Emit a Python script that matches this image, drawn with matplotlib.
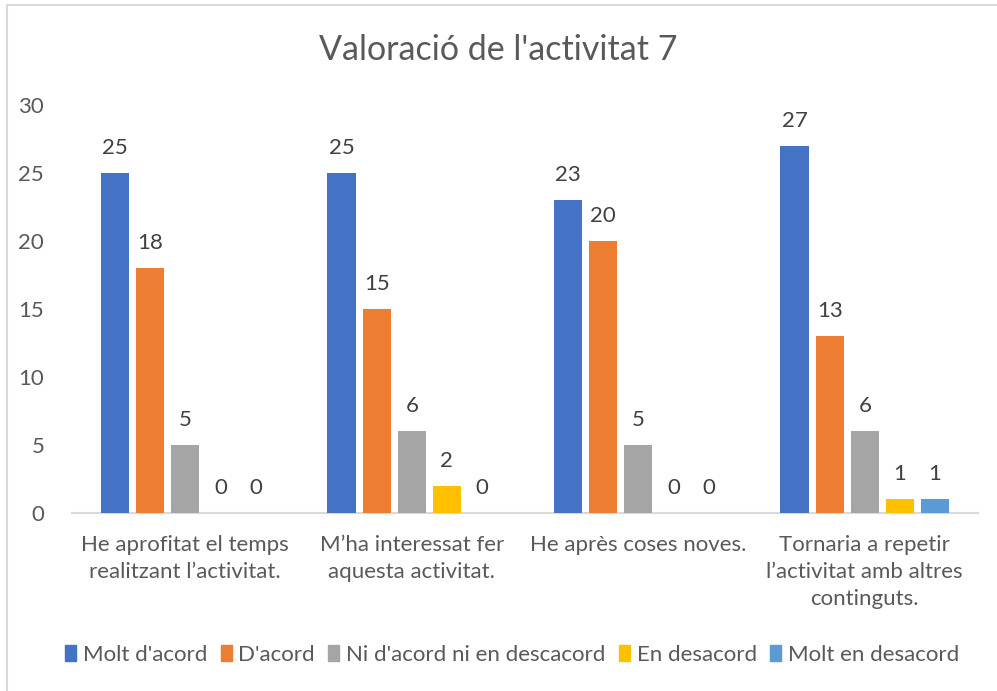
import matplotlib
matplotlib.use("Agg")
import matplotlib.pyplot as plt
import numpy as np
from matplotlib.patches import Rectangle
from matplotlib.lines import Line2D

plt.rcParams['font.family'] = ['Lato', 'DejaVu Sans']

categories = ["He aprofitat el temps\nrealitzant l\u2019activitat.",
              "M\u2019ha interessat fer\naquesta activitat.",
              "He apr\u00e8s coses noves.",
              "Tornaria a repetir\nl\u2019activitat amb altres\ncontinguts."]
series_names = ["Molt d'acord", "D'acord", "Ni d'acord ni en descacord",
                "En desacord", "Molt en desacord"]
molt_acord = [25, 25, 23, 27]
acord = [18, 15, 20, 13]
ni_ni = [5, 6, 5, 6]
desacord = [0, 2, 0, 1]
molt_desacord = [0, 0, 0, 1]
values = [molt_acord, acord, ni_ni, desacord, molt_desacord]
colors = ["#4472C4", "#ED7D31", "#A5A5A5", "#FFC000", "#5B9BD5"]
yticks = [0, 5, 10, 15, 20, 25, 30]

W, H = 997, 691
fig = plt.figure(figsize=(W/100, H/100), dpi=100)
ax = fig.add_axes([72/W, 1-513/H, (978-72)/W, (513-105)/H])

x = np.arange(len(categories))
step = 0.155
width = 0.124
txt = "#595959"
for i, (vals, c) in enumerate(zip(values, colors)):
    pos = x + (i-2)*step
    ax.bar(pos, vals, width=width, color=c, label=series_names[i], zorder=3)
    for p, v in zip(pos, vals):
        ax.annotate(str(v), (p, v), xytext=(0, 11), textcoords='offset points',
                    ha='center', va='bottom', fontsize=16, color="#404040")

ax.set_xlim(-0.5, 3.5)
ax.set_ylim(0, 30)
ax.set_yticks(yticks)
ax.set_yticklabels([str(t) for t in yticks], fontsize=16, color=txt)
ax.set_xticks(x)
ax.set_xticklabels(categories, fontsize=16, color=txt, linespacing=1.42, va='top')
ax.tick_params(axis='both', length=0)
ax.tick_params(axis='y', pad=20)
ax.tick_params(axis='x', pad=16)
for s in ['top', 'right', 'left']:
    ax.spines[s].set_visible(False)
ax.spines['bottom'].set_color("#D9D9D9")
ax.spines['bottom'].set_linewidth(1.5)

fig.text(0.5, 1-50/H, "Valoraci\u00f3 de l'activitat 7", ha='center', va='center',
         fontsize=24.5, color=txt)

# chart border (left and top)
fig.add_artist(Line2D([7/W, 7/W], [0, 1-5/H], color="#D9D9D9", lw=1.5, transform=fig.transFigure))
fig.add_artist(Line2D([7/W, 1], [1-5/H, 1-5/H], color="#D9D9D9", lw=1.5, transform=fig.transFigure))

handles = [Rectangle((0, 0), 1, 1, color=c) for c in colors]
leg = fig.legend(handles, series_names, loc='center', bbox_to_anchor=(512/W, 1-655/H),
                 ncol=5, frameon=False, fontsize=16, handlelength=0.5, handleheight=0.7,
                 handletextpad=0.3, columnspacing=0.6, labelcolor=txt)

fig.savefig("out.png", dpi=100)
